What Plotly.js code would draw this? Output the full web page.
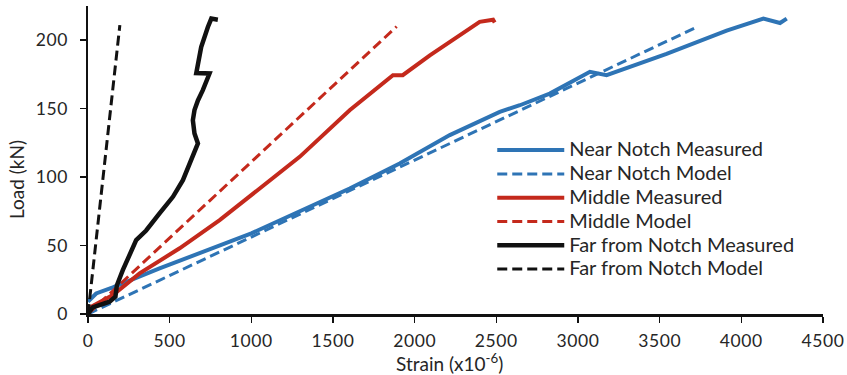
<!DOCTYPE html>
<html>
<head>
<meta charset="utf-8">
<script src="https://cdn.plot.ly/plotly-3.0.1.min.js"></script>
<style>
html,body{margin:0;padding:0;background:#fff;}
#chart{width:847px;height:375px;}
#chart .xtick text, #chart .ytick text{letter-spacing:0.6px;}
</style>
</head>
<body>
<div id="chart"></div>
<script>
// ---- data ----
var seriesNames = ["Near Notch Measured", "Near Notch Model", "Middle Measured", "Middle Model", "Far from Notch Measured", "Far from Notch Model"];

var nearMeasX = [0, 50, 152, 438, 1000, 1296, 1602, 1908, 2215, 2521, 2644, 2827, 3073, 3175, 3542, 3910, 4135, 4237, 4278];
var nearMeasY = [9, 15, 19.5, 33.3, 58.9, 74.7, 91.7, 110, 130.7, 147.7, 152.5, 161, 176.9, 174.5, 190, 207, 215.8, 212.6, 215.8];

var nearModelX = [0, 3735];
var nearModelY = [0, 210];

var midMeasX = [0, 152, 316, 561, 806, 1051, 1296, 1602, 1867, 1927, 2093, 2398, 2480, 2490];
var midMeasY = [4, 13.9, 29.7, 48, 68.6, 91.7, 114.8, 148.9, 174.5, 174.5, 189, 213.4, 215, 213];

var midModelX = [0, 1890];
var midModelY = [0, 210];

var farMeasX = [0, 29, 132, 168, 177, 213, 295, 356, 438, 520, 581, 632, 673, 652, 642, 652, 673, 703, 744, 663, 673, 693, 734, 755, 795];
var farMeasY = [0, 4.9, 9, 12.7, 21, 32, 54, 61, 73.5, 85.6, 97.8, 112.4, 124.6, 131.9, 141.6, 149, 156, 163.5, 175.7, 176, 183, 195, 209.7, 215.8, 215];

var farModelX = [0, 195];
var farModelY = [0, 211];

var xTicks = [0, 500, 1000, 1500, 2000, 2500, 3000, 3500, 4000, 4500];
var yTicks = [0, 50, 100, 150, 200];
var xTitle = "Strain (x10<sup>-6</sup>)";
var yTitle = "Load (kN)";

// ---- styles ----
var BLUE = "#2E74B5", RED = "#C4291C", BLACK = "#111111";
var DASH = "10px,5px";
var FONT = "Lato, 'Noto Sans', sans-serif";
var TXT = "#262626";
function legendLabel(s) { return '<span style="font-size:20px">' + s + '</span>'; }

var styles = [
  {color: BLUE, width: 4},
  {color: BLUE, width: 3, dash: DASH},
  {color: RED, width: 4},
  {color: RED, width: 3, dash: DASH},
  {color: BLACK, width: 4.5},
  {color: BLACK, width: 3, dash: DASH}
];
var xs = [nearMeasX, nearModelX, midMeasX, midModelX, farMeasX, farModelX];
var ys = [nearMeasY, nearModelY, midMeasY, midModelY, farMeasY, farModelY];

var traces = seriesNames.map(function (n, i) {
  return {x: xs[i], y: ys[i], name: legendLabel(n), mode: "lines", line: styles[i]};
});

var layout = {
  width: 847, height: 375,
  margin: {l: 88, r: 24, t: 6, b: 61},
  paper_bgcolor: "#fff", plot_bgcolor: "#fff",
  font: {family: FONT, size: 16, color: TXT},
  showlegend: true,
  legend: {x: 0.55, y: 0.587, xanchor: "left", yanchor: "top", bgcolor: "rgba(0,0,0,0)",
           font: {family: FONT, size: 16, color: TXT}, itemwidth: 67},
  xaxis: {
    range: [0, 4500], tickvals: xTicks, ticktext: xTicks.map(String),
    showline: true, linecolor: "#111", linewidth: 2.5,
    ticks: "outside", ticklen: 6, tickwidth: 1.5, tickcolor: "#111",
    showgrid: false, zeroline: false,
    tickfont: {family: FONT, size: 17.5, color: TXT},
    ticklabelstandoff: 3,
    automargin: false
  },
  yaxis: {
    range: [0, 225], tickvals: yTicks, ticktext: yTicks.map(String),
    showline: true, linecolor: "#111", linewidth: 2.5,
    ticks: "outside", ticklen: 6, tickwidth: 1.5, tickcolor: "#111",
    showgrid: false, zeroline: false,
    tickfont: {family: FONT, size: 17.5, color: TXT},
    ticklabelstandoff: 8,
    automargin: false
  },
  annotations: [
    {text: xTitle, xref: "paper", yref: "paper", x: 0.4915, y: -0.159, xanchor: "center", yanchor: "middle",
     showarrow: false, font: {family: FONT, size: 19, color: TXT}},
    {text: yTitle, xref: "paper", yref: "paper", x: -0.098, y: 0.438, xanchor: "center", yanchor: "middle",
     textangle: -90, showarrow: false, font: {family: FONT, size: 19, color: TXT}}
  ]
};

Plotly.newPlot("chart", traces, layout, {displayModeBar: false, staticPlot: true});
</script>
</body>
</html>
